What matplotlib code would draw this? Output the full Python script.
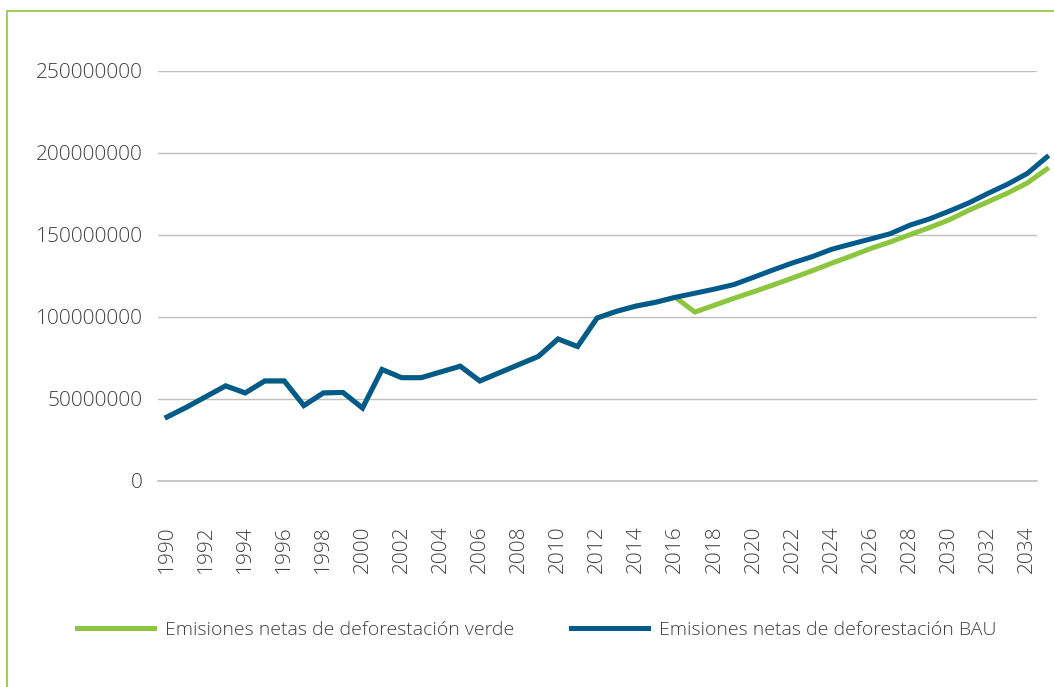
import matplotlib
matplotlib.use("Agg")
import matplotlib.pyplot as plt
from matplotlib.patches import Rectangle

# datos
anios = list(range(1990, 2036))
historico = [39e6, 45e6, 51.5e6, 58e6, 53.7e6, 61e6, 61e6, 46e6, 53.7e6, 54e6,
             44.5e6, 68e6, 63e6, 63e6, 66.5e6, 70e6, 61e6, 66e6, 71e6, 76e6,
             86.6e6, 82e6, 99.4e6, 103.5e6, 106.7e6, 109e6, 112e6]
bau_proy = [114.5e6, 117e6, 119.8e6, 124.2e6, 128.7e6, 133e6, 136.8e6, 141.3e6,
            144.5e6, 147.6e6, 150.8e6, 156e6, 159.8e6, 164.5e6, 169.5e6, 175.4e6,
            181e6, 187.5e6, 197.5e6]
verde_proy = [103e6, 107.2e6, 111.4e6, 115.4e6, 119.5e6, 123.8e6, 128.2e6, 132.8e6,
              137.2e6, 141.8e6, 145.8e6, 150.2e6, 154.5e6, 159.2e6, 165e6, 170.3e6,
              175.6e6, 181.7e6, 190.2e6]
bau = historico + bau_proy
verde = historico + verde_proy
ticks_y = [0, 50000000, 100000000, 150000000, 200000000, 250000000]

color_verde = "#8CC63F"
color_azul = "#005A8C"
color_texto = "#404040"
color_grid = "#BFBFBF"

plt.rcParams['font.family'] = ['Open Sans', 'DejaVu Sans']

fig = plt.figure(figsize=(10.54, 6.87), dpi=100)
ax = fig.add_axes([158 / 1054, 206 / 687, 879 / 1054, 410 / 687])

ax.plot(anios, verde, color=color_verde, lw=3.6, clip_on=False, zorder=3,
        solid_joinstyle='miter', label="Emisiones netas de deforestación verde")
ax.plot(anios, bau, color=color_azul, lw=3.6, clip_on=False, zorder=4,
        solid_joinstyle='miter', label="Emisiones netas de deforestación BAU")

ax.set_xlim(1989.54, 2034.5)
ax.set_ylim(0, 250000000)
ax.set_yticks(ticks_y)
ax.set_yticklabels([str(v) for v in ticks_y])
ax.set_xticks(anios[:-1:2])
ax.set_xticklabels([str(a) for a in anios[:-1:2]], rotation=90)

ax.grid(axis='y', color=color_grid, lw=1)
ax.axhline(0, color=color_grid, lw=1.2, clip_on=False, zorder=1)
ax.set_axisbelow(True)
for s in ax.spines.values():
    s.set_visible(False)
ax.tick_params(length=0, labelsize=15, labelcolor=color_texto)
ax.tick_params(axis='y', pad=11)
ax.tick_params(axis='x', pad=32)
for lbl in ax.get_xticklabels() + ax.get_yticklabels():
    lbl.set_fontweight('light')

leg = fig.legend(loc='center left', bbox_to_anchor=(59 / 1054, 1 - 630 / 687),
                 ncol=2, frameon=False, handlelength=4.0, handletextpad=0.55,
                 columnspacing=2.9, fontsize=14)
for t in leg.get_texts():
    t.set_color(color_texto)
    t.set_fontweight('light')

fig.patches.append(Rectangle((7 / 1054, -0.2), 1.3, 1.2 - 11 / 687,
                             transform=fig.transFigure, fill=False,
                             edgecolor=color_verde, lw=1.2))

fig.savefig("out.png", dpi=100, facecolor="white")
